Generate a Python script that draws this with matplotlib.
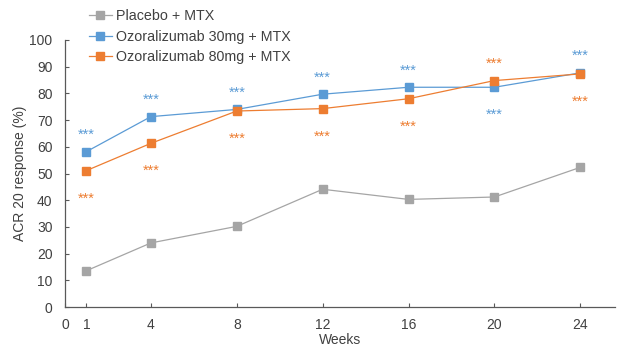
import matplotlib
matplotlib.use('Agg')
from matplotlib import pyplot as plt

plt.rcParams['font.family'] = ['Liberation Sans', 'DejaVu Sans']

# ACR20 response (%) by study week
weeks = [1, 4, 8, 12, 16, 20, 24]
placebo = [13.6, 24.0, 30.2, 44.1, 40.3, 41.2, 52.3]
ozo_30 = [58.2, 71.3, 74.0, 79.7, 82.3, 82.3, 87.7]
ozo_80 = [51.1, 61.3, 73.4, 74.3, 78.0, 84.8, 87.3]

# where the significance stars sit relative to each point (1 above, -1 below)
stars_30 = [1, 1, 1, 1, 1, -1, 1]
stars_80 = [-1, -1, -1, -1, -1, 1, -1]

xticks = [0, 1, 4, 8, 12, 16, 20, 24]
yticks = list(range(0, 101, 10))

gray = '#A5A5A5'
blue = '#5B9BD5'
orange = '#ED7D31'

fig = plt.figure(figsize=(6.21, 3.49), dpi=100)
ax = fig.add_axes([0.1047, 0.1203, 0.885, 0.7651])

ax.plot(weeks, placebo, color=gray, lw=0.9, marker='s', ms=5.5, label='Placebo + MTX', zorder=3)
ax.plot(weeks, ozo_30, color=blue, lw=0.9, marker='s', ms=5.5, label='Ozoralizumab 30mg + MTX', zorder=3)
ax.plot(weeks, ozo_80, color=orange, lw=0.9, marker='s', ms=5.5, label='Ozoralizumab 80mg + MTX', zorder=3)

# *** markers for p-values
for vals, side, col in [(ozo_30, stars_30, blue), (ozo_80, stars_80, orange)]:
    for x, y, s in zip(weeks, vals, side):
        ax.annotate('***', (x, y), xytext=(0, 16 * s - 4), textcoords='offset points',
                    ha='center', va='center', fontsize=10.5, color=col)

ax.set_xlim(0, 25.6)
ax.set_ylim(0, 100)
ax.set_xticks(xticks)
ax.set_yticks(yticks)
ax.tick_params(axis='both', direction='in', length=3, width=0.8, color='#595959',
               labelsize=10, labelcolor='#404040')
ax.tick_params(axis='x', pad=8)
ax.tick_params(axis='y', pad=9)

for side in ['top', 'right']:
    ax.spines[side].set_visible(False)
for side in ['left', 'bottom']:
    ax.spines[side].set_color('#595959')
    ax.spines[side].set_linewidth(0.9)

ax.set_xlabel('Weeks', fontsize=10, color='#404040', labelpad=0.5)
ax.set_ylabel('ACR 20 response (%)', fontsize=10, color='#404040', labelpad=2)

ax.legend(loc='upper left', bbox_to_anchor=(0.128, 1.0), bbox_transform=fig.transFigure,
          frameon=False, fontsize=10.3, handlelength=1.6, handletextpad=0.3,
          labelspacing=0.45, borderaxespad=0.25, labelcolor='#404040')

fig.savefig('out.png', dpi=100)
